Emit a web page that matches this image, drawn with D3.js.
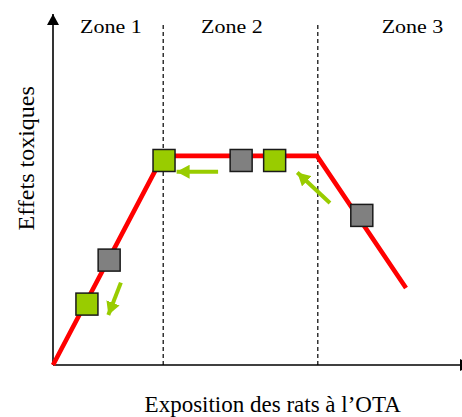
<!DOCTYPE html>
<html>
<head>
<meta charset="utf-8">
<script src="https://cdn.jsdelivr.net/npm/d3@7"></script>
<style>
  html, body { margin: 0; padding: 0; background: #fff; }
  svg { display: block; }
  text { font-family: "Liberation Serif", "Times New Roman", serif; fill: #000; }
</style>
</head>
<body>
<svg id="chart" width="462" height="417"></svg>
<script>
// ---- data (conceptual units: exposure 0-100, toxic effect 0-100) ----
const curveX = [0, 26.25, 63.0, 84.25];
const curveY = [0, 59.4, 59.4, 21.9];
const zoneBounds = [26.3, 63.2];
const zoneNames = ["Zone 1", "Zone 2", "Zone 3"];
const squareX = [8.1, 13.4, 26.5, 44.9, 52.9, 73.7];
const squareY = [17.3, 29.8, 58.1, 58.1, 58.1, 42.5];
const squareType = ["green", "gray", "green", "gray", "green", "gray"];
const arrowFromX = [39.4, 66.1, 16.2];
const arrowFromY = [54.9, 46.0, 23.4];
const arrowToX = [29.5, 58.3, 13.2];
const arrowToY = [54.9, 54.7, 14.2];
const xTitle = "Exposition des rats à l\u2019OTA";
const yTitle = "Effets toxiques";

// ---- layout ----
const svg = d3.select("#chart");
const x = d3.scaleLinear().domain([0, 100]).range([53, 472]);
const y = d3.scaleLinear().domain([0, 100]).range([365, 13]);
const zoneLabelX = [13.8, 42.7, 85.8];
const colors = { green: "#99cc00", gray: "#808080", red: "#ff0000" };

const defs = svg.append("defs");
defs.append("marker").attr("id", "axisHead")
  .attr("markerUnits", "userSpaceOnUse")
  .attr("markerWidth", 12).attr("markerHeight", 12)
  .attr("refX", 11).attr("refY", 6).attr("orient", "auto")
  .append("path").attr("d", "M0,0 L11,6 L0,12 Z").attr("fill", "#000");
defs.append("marker").attr("id", "greenHead")
  .attr("markerUnits", "userSpaceOnUse")
  .attr("markerWidth", 14).attr("markerHeight", 14)
  .attr("refX", 13).attr("refY", 7).attr("orient", "auto")
  .append("path").attr("d", "M0,0 L13,7 L0,14 Z").attr("fill", colors.green);

// dashed zone boundaries
svg.selectAll("line.zone").data(zoneBounds).join("line")
  .attr("class", "zone")
  .attr("x1", d => x(d)).attr("x2", d => x(d))
  .attr("y1", y(96.6)).attr("y2", y(0))
  .attr("stroke", "#000").attr("stroke-width", 1.2)
  .attr("stroke-dasharray", "4,3");

// axes
svg.append("line")
  .attr("x1", x(0)).attr("y1", y(0)).attr("x2", x(100) - 1).attr("y2", y(0))
  .attr("stroke", "#000").attr("stroke-width", 1.6)
  .attr("marker-end", "url(#axisHead)");
svg.append("line")
  .attr("x1", x(0)).attr("y1", y(0)).attr("x2", x(0)).attr("y2", y(100) + 1)
  .attr("stroke", "#000").attr("stroke-width", 1.6)
  .attr("marker-end", "url(#axisHead)");

// red response curve
const pts = curveX.map((d, i) => [d, curveY[i]]);
svg.append("path")
  .attr("d", d3.line().x(d => x(d[0])).y(d => y(d[1]))(pts))
  .attr("fill", "none").attr("stroke", colors.red)
  .attr("stroke-width", 4.6).attr("stroke-linejoin", "miter");

// squares
const sq = 22;
svg.selectAll("rect.pt").data(squareX).join("rect")
  .attr("class", "pt")
  .attr("x", d => x(d) - sq / 2)
  .attr("y", (d, i) => y(squareY[i]) - sq / 2)
  .attr("width", sq).attr("height", sq)
  .attr("fill", (d, i) => colors[squareType[i]])
  .attr("stroke", "#1a1a1a").attr("stroke-width", 1.5);

// green arrows
svg.selectAll("line.arr").data(arrowFromX).join("line")
  .attr("class", "arr")
  .attr("x1", d => x(d)).attr("y1", (d, i) => y(arrowFromY[i]))
  .attr("x2", (d, i) => x(arrowToX[i])).attr("y2", (d, i) => y(arrowToY[i]))
  .attr("stroke", colors.green).attr("stroke-width", 4)
  .attr("marker-end", "url(#greenHead)");

// zone labels
svg.selectAll("text.zl").data(zoneNames).join("text")
  .attr("class", "zl")
  .attr("text-anchor", "middle")
  .attr("font-size", 22)
  .attr("transform", (d, i) => `translate(${x(zoneLabelX[i])},32.7) scale(1,0.87)`)
  .text(d => d);

// axis titles
svg.append("text")
  .attr("x", 272.7).attr("y", 412.3)
  .attr("text-anchor", "middle").attr("font-size", 23)
  .text(xTitle);
svg.append("text")
  .attr("transform", "translate(34.3,158.3) rotate(-90)")
  .attr("text-anchor", "middle").attr("font-size", 24)
  .text(yTitle);
</script>
</body>
</html>
